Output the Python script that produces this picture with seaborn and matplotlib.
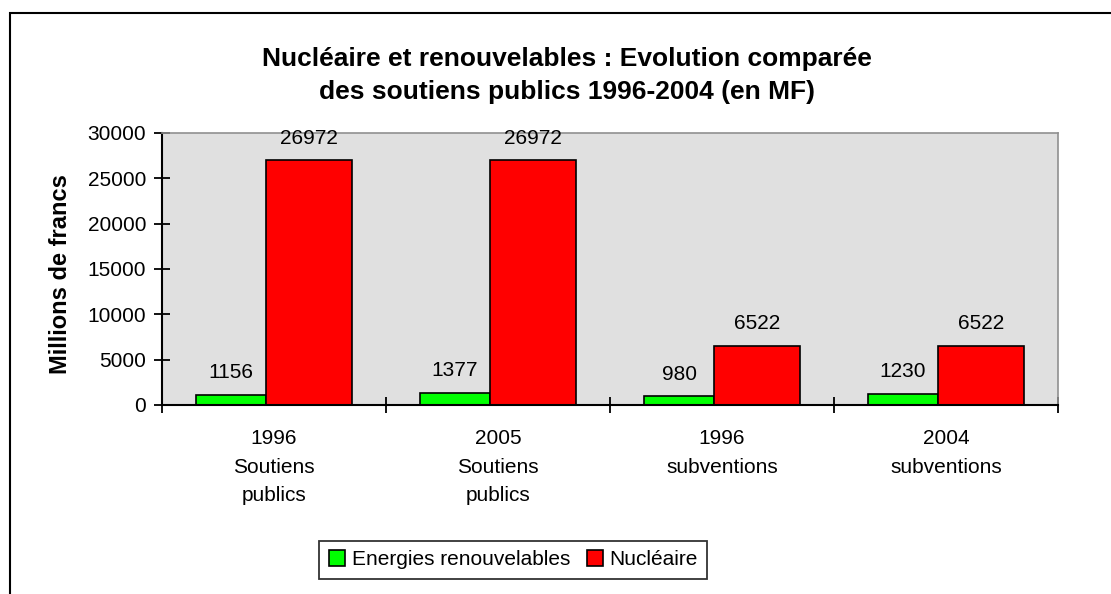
import pandas as pd
import matplotlib.pyplot as plt
from matplotlib.patches import Rectangle
import seaborn as sns

# data
categories = ["1996\nSoutiens\npublics", "2005\nSoutiens\npublics", "1996\nsubventions", "2004\nsubventions"]
renouvelables = [1156, 1377, 980, 1230]
nucleaire = [26972, 26972, 6522, 6522]
series = ["Energies renouvelables", "Nucléaire"]
colours = {"Energies renouvelables": "#00FF00", "Nucléaire": "#FF0000"}

df = pd.DataFrame({
    "cat": categories * 2,
    "serie": [series[0]] * 4 + [series[1]] * 4,
    "val": renouvelables + nucleaire,
})

sns.set_style("white")
plt.rcParams["font.family"] = ["Liberation Sans", "DejaVu Sans"]
plt.rcParams["text.color"] = "black"
plt.rcParams["xtick.color"] = "black"
plt.rcParams["ytick.color"] = "black"

fig = plt.figure(figsize=(11.11, 5.94), dpi=100)
ax = fig.add_axes([0.1458, 0.3182, 0.8065, 0.4579])

sns.barplot(data=df, x="cat", y="val", hue="serie", palette=colours, saturation=1,
            width=0.696, edgecolor="black", linewidth=1.2, ax=ax)

# excel style: narrow green bar, wider red bar overlapping
for cont, name in zip(ax.containers, series):
    for p in cont:
        if name == series[0]:
            p.set_width(0.3125)
        else:
            p.set_x(p.get_x() - 0.0357)
            p.set_width(0.384)
    ax.bar_label(cont, padding=9, fontsize=15, color="black")

handles, labels = ax.get_legend_handles_labels()
ax.get_legend().remove()
for h in handles:
    h.set_edgecolor("black")
    h.set_linewidth(1.2)

ax.set_facecolor("#E0E0E0")
ax.set_xlim(-0.5, 3.5)
ax.set_ylim(0, 30000)
ax.set_yticks(range(0, 30001, 5000))
ax.set_xlabel("")
ax.set_ylabel("")

ax.set_xticks([-0.5, 0.5, 1.5, 2.5, 3.5])
ax.set_xticklabels([])
ax.set_xticks(range(4), minor=True)
ax.set_xticklabels(categories, minor=True, fontsize=15, linespacing=1.64)
ax.tick_params(axis="x", which="major", direction="inout", length=11, width=1.3, color="black", bottom=True)
ax.tick_params(axis="x", which="minor", length=0, pad=17.5)
ax.tick_params(axis="y", direction="inout", length=11, width=1.3, color="black", left=True, labelsize=15, pad=6)

for s in ["left", "bottom"]:
    ax.spines[s].set_color("black")
    ax.spines[s].set_linewidth(1.5)
for s in ["top", "right"]:
    ax.spines[s].set_color("#909090")
    ax.spines[s].set_linewidth(1.2)

fig.text(0.51, 0.873, "Nucléaire et renouvelables : Evolution comparée\ndes soutiens publics 1996-2004 (en MF)",
         ha="center", va="center", fontsize=19, fontweight="bold", linespacing=1.5)
fig.text(0.0545, 0.538, "Millions de francs", rotation=90, ha="center", va="center",
         fontsize=17, fontweight="bold")

fig.legend(handles, labels, loc="center", bbox_to_anchor=(0.462, 0.058), ncol=2,
           fontsize=15, frameon=True, fancybox=False, edgecolor="black",
           handlelength=0.8, handleheight=0.8, handletextpad=0.3, columnspacing=0.8,
           borderpad=0.45, borderaxespad=0)
fig.legends[0].get_frame().set_linewidth(1.3)

# outer chart frame (right and bottom edges cut off in the original)
fig.patches.append(Rectangle((10 / 1111, -0.1), 1.2, 1.1 - 13 / 594, transform=fig.transFigure,
                             fill=False, edgecolor="black", linewidth=1.5))

fig.savefig("out.png", dpi=100)
